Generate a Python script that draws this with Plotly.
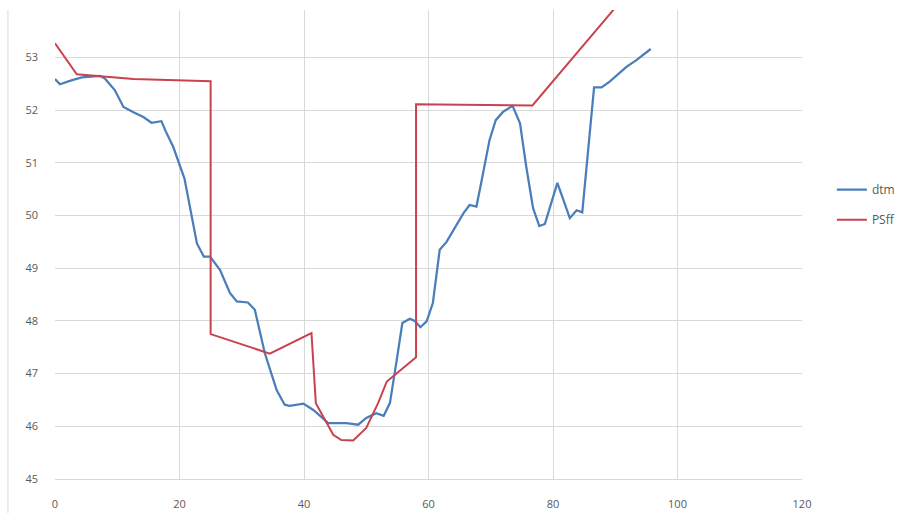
import plotly.graph_objects as go

# Terrain profile (dtm) and design line (PSff)
dtm_x = [0, 0.8, 2.5, 4.3, 7.2, 8.0, 9.6, 11.0, 12.6, 14.2, 15.5, 17.1, 17.7, 19.0, 20.8,
         21.7, 22.8, 23.9, 24.9, 26.5, 28.1, 29.2, 31.0, 32.1, 33.7, 35.6, 36.9, 37.7, 39.9,
         41.5, 43.9, 46.8, 48.7, 50.0, 51.6, 52.8, 53.8, 54.9, 55.8, 57.0, 57.8, 58.7, 59.7,
         60.7, 61.8, 62.9, 65.6, 66.6, 67.7, 68.5, 69.8, 70.8, 72.0, 73.5, 74.7, 75.7, 76.8,
         77.8, 78.7, 80.7, 82.7, 83.8, 84.7, 86.6, 87.8, 89.1, 91.8, 93.4, 95.7]
dtm_y = [52.59, 52.49, 52.56, 52.62, 52.65, 52.6, 52.38, 52.06, 51.96, 51.87, 51.76, 51.79,
         51.62, 51.3, 50.7, 50.17, 49.47, 49.22, 49.22, 48.97, 48.53, 48.37, 48.35, 48.21,
         47.39, 46.69, 46.41, 46.39, 46.43, 46.31, 46.06, 46.06, 46.03, 46.16, 46.25, 46.2,
         46.44, 47.26, 47.96, 48.04, 48.0, 47.88, 47.99, 48.34, 49.35, 49.5, 50.04, 50.2,
         50.17, 50.64, 51.43, 51.81, 51.97, 52.08, 51.75, 50.93, 50.14, 49.8, 49.84, 50.62,
         49.95, 50.1, 50.06, 52.43, 52.43, 52.54, 52.82, 52.95, 53.16]

psff_x = [0, 3.5, 12.6, 25.0, 25.0, 34.5, 41.2, 41.9, 44.7, 46.0, 47.9, 50.0, 51.9, 53.3,
          58.0, 58.0, 76.7, 96.0]
psff_y = [53.27, 52.68, 52.59, 52.55, 47.75, 47.38, 47.77, 46.44, 45.84, 45.74, 45.73,
          45.97, 46.44, 46.85, 47.31, 52.11, 52.09, 54.78]

x_ticks = [0, 20, 40, 60, 80, 100, 120]
y_ticks = [45, 46, 47, 48, 49, 50, 51, 52, 53]

GRID = "#d9d9d9"
TICK = "#595959"

fig = go.Figure()
fig.add_trace(go.Scatter(x=dtm_x, y=dtm_y, mode="lines", name="dtm", legendgroup="a",
                         line=dict(color="#4a7ebb", width=2.25)))
fig.add_trace(go.Scatter(x=psff_x, y=psff_y, mode="lines", name="PSff", legendgroup="b",
                         line=dict(color="#c8434f", width=2)))

fig.update_layout(
    width=900, height=513,
    margin=dict(l=55, r=98, t=10, b=34, autoexpand=False),
    paper_bgcolor="white", plot_bgcolor="white",
    font=dict(family="Open Sans, Liberation Sans, sans-serif", size=11, color=TICK),
    showlegend=True,
    legend=dict(x=1.04, y=0.585, xanchor="left", yanchor="middle",
                traceorder="grouped", tracegroupgap=11,
                font=dict(size=12, color=TICK), bgcolor="rgba(0,0,0,0)"),
    xaxis=dict(range=[0, 120], tickvals=x_ticks, showgrid=True, gridcolor=GRID,
               gridwidth=1, zeroline=False, showline=True, linecolor=GRID,
               ticks="", ticklabelstandoff=15),
    yaxis=dict(range=[45, 53.9], tickvals=y_ticks, showgrid=True, gridcolor=GRID,
               gridwidth=1, zeroline=False, showline=False, ticks="",
               ticklabelstandoff=16),
    shapes=[dict(type="line", xref="paper", yref="paper", x0=-0.063, x1=-0.063,
                 y0=-0.08, y1=1.0, line=dict(color=GRID, width=1))],
)

fig.write_html("out.html")
